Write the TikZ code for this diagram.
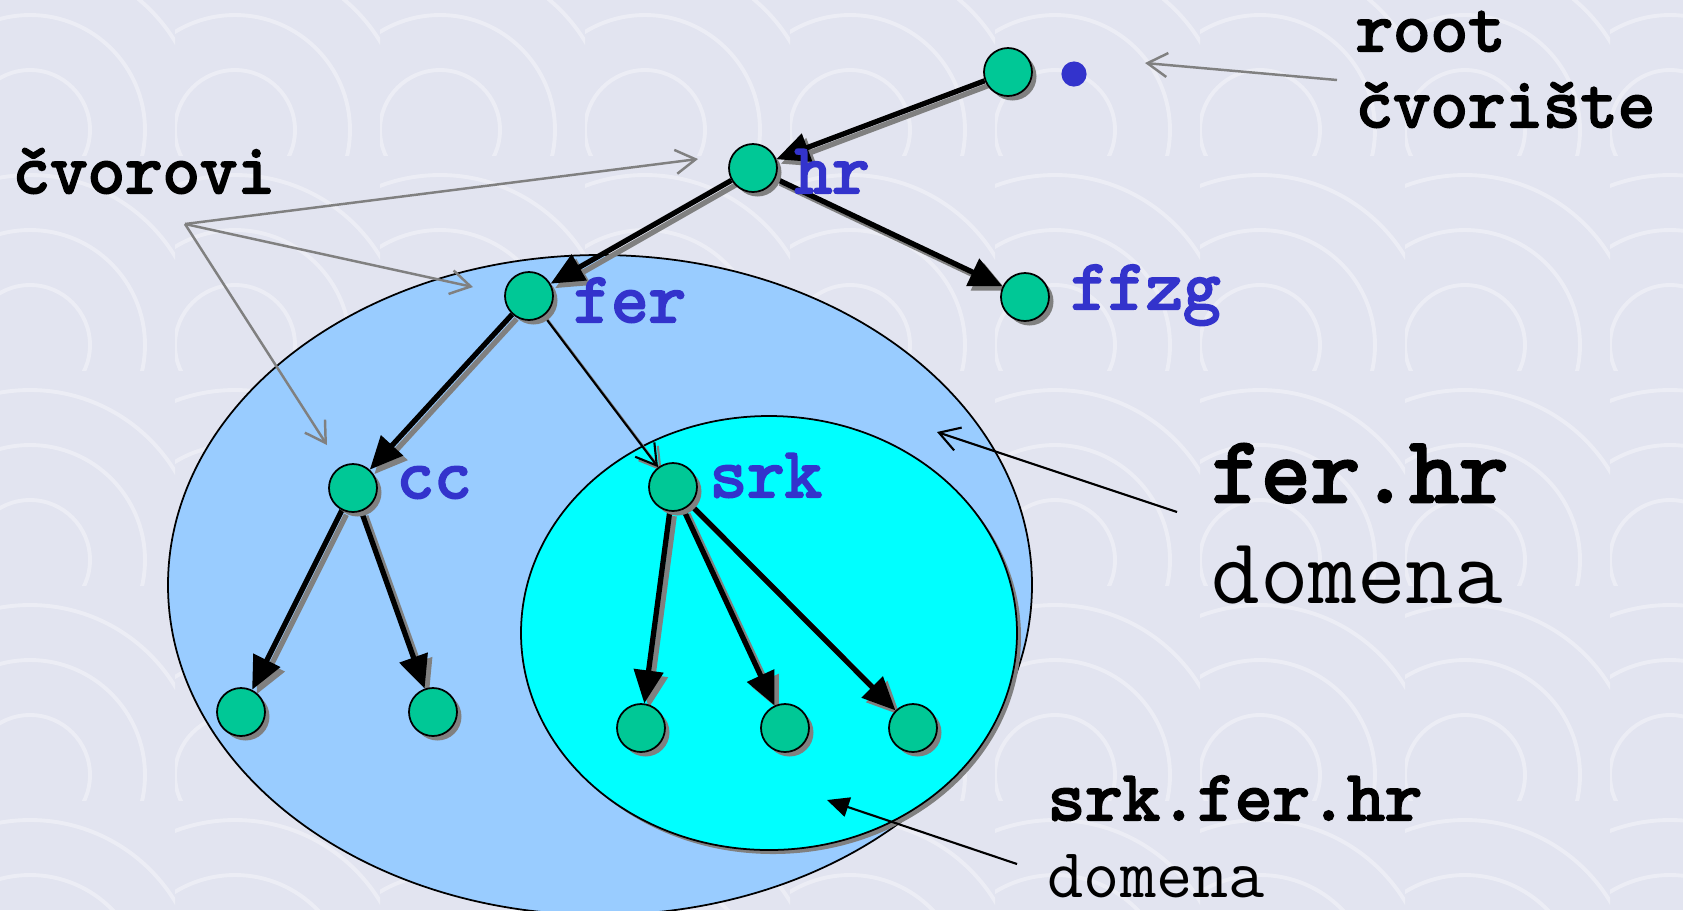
\documentclass[tikz,border=0pt]{standalone}
\usepackage{fontspec}
\newfontfamily\heavymono{lmmono10-regular.otf}[FakeBold=3]
\usetikzlibrary{arrows.meta,shadows,shapes.geometric}

\definecolor{bgcol}{HTML}{E2E4F0}
\definecolor{nodegreen}{HTML}{00C896}
\definecolor{labelblue}{HTML}{3333CC}
\definecolor{ferblue}{HTML}{99CCFF}
\definecolor{srkcyan}{HTML}{00FFFF}
\definecolor{calloutgray}{HTML}{808080}

\pgfdeclarelayer{background}
\pgfdeclarelayer{edges}
\pgfsetlayers{background,edges,main}

\tikzset{
  dnsnode/.style={circle, draw=black, line width=0.5pt, fill=nodegreen,
    minimum size=4.8mm, inner sep=0pt,
    drop shadow={shadow xshift=0.45mm, shadow yshift=-0.45mm, fill=black!50, opacity=1}},
  zonearea/.style={ellipse, draw=black, line width=0.5pt, inner sep=0pt},
  treearrow/.style={line width=1.5pt, -{Triangle[length=3.3mm,width=2.9mm]}},
  treeshadow/.style={treearrow, draw=black!50, fill=black!50,
    transform canvas={shift={(0.45mm,-0.45mm)}}},
  thinarrow/.style={line width=0.6pt, -{Straight Barb[length=2mm,width=2.4mm]}},
  thinshadow/.style={thinarrow, draw=black!50,
    transform canvas={shift={(0.35mm,-0.35mm)}}},
  callout/.style={draw=calloutgray, line width=0.7pt, -{Straight Barb[length=2mm,width=2.4mm]}},
  darkcallout/.style={draw=black, line width=0.6pt, -{Straight Barb[length=2mm,width=2.4mm]}},
  solidcallout/.style={draw=black, line width=0.6pt, -{Triangle[length=2.2mm,width=2mm]}},
  lbl/.style={font=\heavymono\fontsize{20.3}{22}\selectfont, text=labelblue,
    anchor=base west, inner sep=0pt},
  note/.style={font=\heavymono\fontsize{20.3}{22}\selectfont,
    anchor=base west, inner sep=0pt},
  bignote/.style={font=\heavymono\fontsize{26.8}{30}\selectfont,
    anchor=base west, inner sep=0pt},
  bigplain/.style={font=\ttfamily\fontsize{26.8}{30}\selectfont,
    anchor=base west, inner sep=0pt},
  plain/.style={font=\ttfamily\fontsize{20}{22}\selectfont,
    anchor=base west, inner sep=0pt},
  dotmark/.style={font=\heavymono\fontsize{46}{48}\selectfont, text=labelblue,
    anchor=center, inner sep=0pt},
}

\begin{document}
\begin{tikzpicture}[x=0.1mm, y=-0.1mm]
\useasboundingbox (0,0) rectangle (1683,910);
\clip (0,0) rectangle (1683,910);

% textured backdrop: pale tiles with faint concentric swirls
\begin{pgfonlayer}{background}
  \fill[bgcol] (0,0) rectangle (1683,910);
  \foreach \i in {0,...,8} {
    \foreach \j in {0,...,4} {
      \begin{scope}
        \clip (\i*205-30, \j*215-60) rectangle ++(205,215);
        \foreach \r in {60,115,170}
          \draw[white, opacity=0.35, line width=1.1pt] (\i*205+30, \j*215+130) circle [radius=\r];
      \end{scope}
    }
  }
  % the two domains
  \node[zonearea, fill=ferblue, minimum width=86.4mm, minimum height=66mm] (ferdom) at (600,585) {};
  \fill[black!50] (773,637) ellipse [x radius=248, y radius=217];
  \node[zonearea, fill=srkcyan, minimum width=49.6mm, minimum height=43.4mm] (srkdom) at (769,633) {};
\end{pgfonlayer}

% name-server tree
\node[dnsnode] (root) at (1008,72) {};
\node[dnsnode] (hr)   at (753,168) {};
\node[dnsnode] (fer)  at (529,296) {};
\node[dnsnode] (ffzg) at (1025,297) {};
\node[dnsnode] (cc)   at (353,488) {};
\node[dnsnode] (srk)  at (673,487) {};
\node[dnsnode] (cca)  at (241,712) {};
\node[dnsnode] (ccb)  at (433,712) {};
\node[dnsnode] (srka) at (641,728) {};
\node[dnsnode] (srkb) at (785,728) {};
\node[dnsnode] (srkc) at (913,728) {};

\begin{pgfonlayer}{edges}
  \foreach \a/\b in {root/hr, hr/fer, hr/ffzg, fer/cc, cc/cca, cc/ccb, srk/srka, srk/srkb, srk/srkc} {
    \draw[treeshadow] (\a) -- (\b);
    \draw[treearrow] (\a) -- (\b);
  }
  \draw[thinshadow] (fer) -- (srk);
  \draw[thinarrow] (fer) -- (srk);
\end{pgfonlayer}

% node labels
\node[dotmark] (rootdot) at (1074,74) {.};
\node[lbl] (hrlbl)   at (794,193) {hr};
\node[lbl] (ferlbl)  at (573,322) {fer};
\node[lbl] (ffzglbl) at (1070,309) {ffzg};
\node[lbl] (cclbl)   at (396,498) {cc};
\node[lbl] (srklbl)  at (709,497) {srk};

% annotations
\node[note] (roottxt) at (1355,51) {root};
\node[note] (rootsub) at (1355,127) {čvorište};
\node[note] (nodestxt) at (12,193) {čvorovi};
\node[bignote] (fertxt) at (1211,502) {fer.hr};
\node[bigplain] (fersub) at (1211,603) {domena};
\node[note] (srktxt) at (1047,820) {srk.fer.hr};
\node[plain] (srksub) at (1047,897) {domena};

% callout pointers
\coordinate (fan) at (185,224);
\coordinate (fanhr) at (698,159);
\coordinate (fanfer) at (473,287);
\coordinate (fancc) at (327,445);
\draw[callout] (fan) -- (fanhr);
\draw[callout] (fan) -- (fanfer);
\draw[callout] (fan) -- (fancc);

\coordinate (rootfrom) at (1337,80);
\coordinate (rootto) at (1145,63);
\draw[callout] (rootfrom) -- (rootto);

\coordinate (ferfrom) at (1177,512);
\coordinate (ferto) at (937,432);
\draw[darkcallout] (ferfrom) -- (ferto);

\coordinate (srkfrom) at (1017,864);
\coordinate (srkto) at (827,800);
\draw[solidcallout] (srkfrom) -- (srkto);
\end{tikzpicture}
\end{document}
